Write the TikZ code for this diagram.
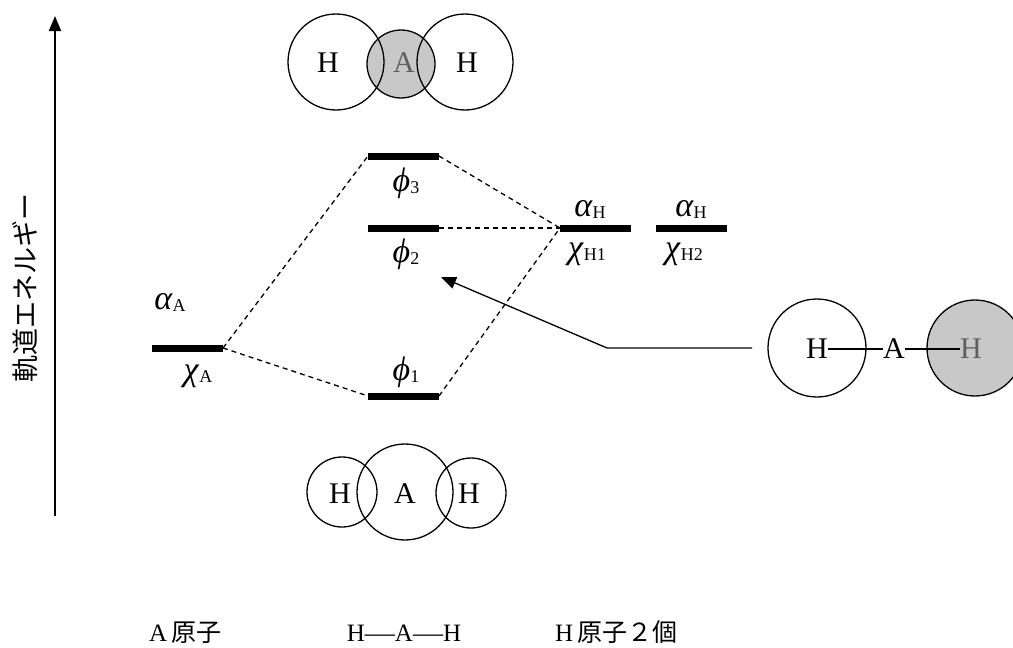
\documentclass[tikz,border=0pt]{standalone}
\usepackage{fontspec}
\setmainfont{Liberation Serif}
\newfontfamily\jp{Noto Sans CJK JP}
\usetikzlibrary{arrows.meta}
\definecolor{shadefill}{RGB}{200,200,200}
\definecolor{atxt}{RGB}{95,95,95}
\newcommand{\orb}[2]{{\fontsize{34}{34}\selectfont\textit{#1}}\raisebox{-0.2em}{\fontsize{18}{18}\selectfont #2}}
\newcommand{\longdash}{\scalebox{1.2}[1]{—}}
\tikzset{
  bar/.style={line width=7pt},
  dashln/.style={line width=1.3pt, dash pattern=on 5pt off 4pt},
  atom/.style={circle, draw, line width=1.3pt, inner sep=0pt},
  lbl/.style={inner sep=0pt},
  atomtxt/.style={inner sep=0pt, font=\fontsize{30}{30}\selectfont},
  bottomtxt/.style={inner sep=0pt, font=\fontsize{25}{25}\selectfont, anchor=base},
  link/.style={line width=1.3pt},
}
\begin{document}
\begin{tikzpicture}[x=1pt,y=-1pt]
\clip (0,0) rectangle (1013,648);
\fill[white] (0,0) rectangle (1013,648);

% energy axis
\coordinate (axB) at (55,516);
\coordinate (axT) at (55,16);
\draw[line width=1.8pt, -{Triangle[length=15pt,width=12pt]}] (axB) -- (axT);
\node[inner sep=0pt, rotate=90, font=\jp\fontsize{27}{27}\selectfont] (elabel) at (25,288) {軌道エネルギー};

% level endpoints
\coordinate (xaL) at (152,348); \coordinate (xaR) at (223,348);
\coordinate (p1L) at (368,396); \coordinate (p1R) at (439,396);
\coordinate (p2L) at (368,228); \coordinate (p2R) at (439,228);
\coordinate (p3L) at (368,156); \coordinate (p3R) at (439,156);
\coordinate (h1L) at (560,228); \coordinate (h1R) at (631,228);
\coordinate (h2L) at (656,228); \coordinate (h2R) at (727,228);

% correlation lines
\draw[dashln] (xaR) -- (p3L);
\draw[dashln] (xaR) -- (p1L);
\draw[dashln] (p3R) -- (h1L);
\draw[dashln] (p2R) -- (h1L);
\draw[dashln] (p1R) -- (h1L);

% levels
\draw[bar] (xaL) -- (xaR);
\draw[bar] (p1L) -- (p1R);
\draw[bar] (p2L) -- (p2R);
\draw[bar] (p3L) -- (p3R);
\draw[bar] (h1L) -- (h1R);
\draw[bar] (h2L) -- (h2R);

% level labels
\node[lbl] (aA) at (170,302) {\orb{α}{A}};
\node[lbl] (cA) at (198,376) {\orb{χ}{A}};
\node[lbl] (f1) at (406,372) {\orb{ϕ}{1}};
\node[lbl] (f2) at (406,254) {\orb{ϕ}{2}};
\node[lbl] (f3) at (406,183) {\orb{ϕ}{3}};
\node[lbl] (aH1) at (590,209) {\orb{α}{H}};
\node[lbl] (aH2) at (691,209) {\orb{α}{H}};
\node[lbl] (cH1) at (587,254) {\orb{χ}{H1}};
\node[lbl] (cH2) at (684,254) {\orb{χ}{H2}};

% top antibonding picture
\node[atom, fill=shadefill, minimum size=68pt] (tA) at (401,64) {};
\node[atom, minimum size=96pt] (tH1) at (336,62) {};
\node[atom, minimum size=96pt] (tH2) at (465,62) {};
\node[atomtxt, text=atxt] (tAt) at (404,63) {A};
\node[atomtxt] (tH1t) at (328,63) {H};
\node[atomtxt] (tH2t) at (467,63) {H};

% bottom bonding picture
\node[atom, minimum size=70pt] (bH1) at (342,492) {};
\node[atom, minimum size=96pt] (bA) at (405,492) {};
\node[atom, minimum size=70pt] (bH2) at (471,493) {};
\node[atomtxt] (bH1t) at (340,494) {H};
\node[atomtxt] (bAt) at (405,494) {A};
\node[atomtxt] (bH2t) at (469,494) {H};

% right picture
\node[atom, minimum size=98pt] (rH1) at (817,348) {};
\node[atom, fill=shadefill, minimum size=96pt] (rH2) at (975,348) {};
\node[atomtxt] (rH1t) at (817,349) {H};
\node[atomtxt] (rAt) at (894,349) {A};
\node[atomtxt, text=atxt] (rH2t) at (971,349) {H};
\draw[link] (rH1t.east) -- (rAt.west);
\draw[link] (rAt.east) -- (rH2t.west);

% pointer arrow
\coordinate (arS) at (752,348);
\coordinate (arK) at (607,348);
\coordinate (arT) at (441,277);
\draw[link, -{Triangle[length=15pt,width=12pt]}] (arS) -- (arK) -- (arT);

% bottom captions
\node[bottomtxt, anchor=base west] (capA) at (149,641) {A\,{\jp 原子}};
\node[bottomtxt] (capM) at (404,641) {H\longdash A\longdash H};
\node[bottomtxt, anchor=base west] (capH) at (555,641) {H\,{\jp 原子２個}};
\end{tikzpicture}
\end{document}
